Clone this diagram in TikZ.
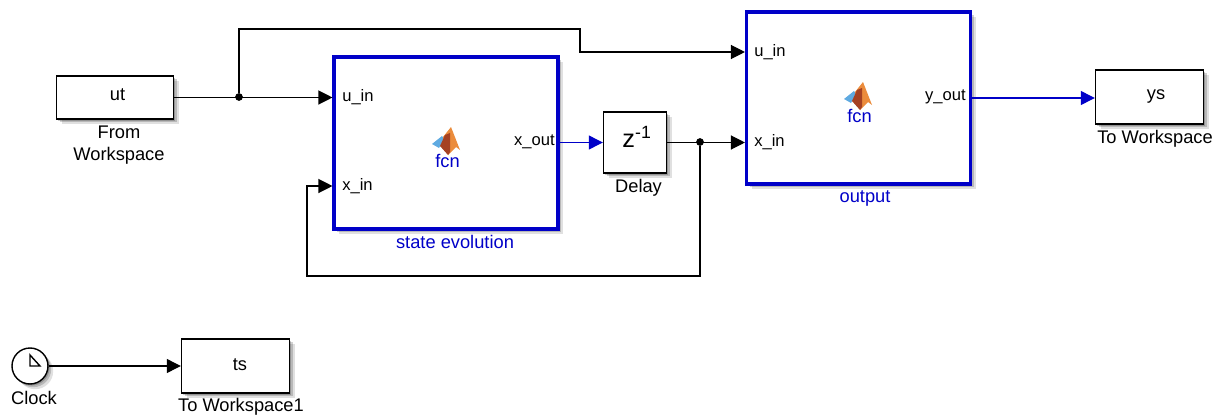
\documentclass[tikz,border=0pt]{standalone}
\usepackage{fontspec}
\setmainfont{Liberation Sans}
\usetikzlibrary{shadows,arrows.meta}
\definecolor{simblue}{RGB}{0,0,200}
\definecolor{logoblue}{RGB}{95,170,225}
\definecolor{logoorange}{RGB}{235,140,60}
\definecolor{logored}{RGB}{165,65,35}
\tikzset{
	softshadow/.style={
		drop shadow={shadow xshift=0.4mm,shadow yshift=-0.4mm,opacity=0.2,fill=black},
		drop shadow={shadow xshift=0.8mm,shadow yshift=-0.8mm,opacity=0.18,fill=black},
		drop shadow={shadow xshift=1.3mm,shadow yshift=-1.3mm,opacity=0.12,fill=black}},
	block/.style 2 args={draw=black,fill=white,line width=1pt,softshadow,inner sep=0pt,
		minimum width=#1*0.025cm,minimum height=#2*0.025cm},
	fcnblock/.style={block={224}{172},draw=simblue,line width=2.2pt},
	wire/.style={line width=0.85pt,-{Triangle[length=3.5mm,width=3.5mm]}},
	dot/.style={circle,fill=black,inner sep=0pt,minimum size=5.5pt},
	caption/.style={font=\fontsize{13}{15}\selectfont,align=center,inner sep=0pt},
	port/.style={font=\fontsize{11.8}{14}\selectfont,inner sep=0pt},
}
\begin{document}
\begin{tikzpicture}[x=0.025cm,y=-0.025cm]
	\useasboundingbox (0,0) rectangle (1222,414);
	% blocks
	\node[block={117}{43}] (ut) at (115,97.5) {};
	\node[fcnblock] (state) at (446,143) {};
	\node[block={63}{61}] (delay) at (635,142.5) {};
	\node[fcnblock] (output) at (858.5,98) {};
	\node[block={108}{54}] (ys) at (1149.5,97) {};
	\node[block={108}{54}] (ts) at (235.5,366) {};
	\node[draw=black,fill=white,line width=1pt,circle,softshadow,minimum size=36*0.025cm,inner sep=0pt] (clock) at (30,366) {};
	% block texts
	\node[caption] (utname) at (117.5,95) {ut};
	\node[caption] (ysname) at (1156,96.5) {ys};
	\node[caption] (tsname) at (240,364.5) {ts};
	\node[font=\fontsize{18}{20}\selectfont,inner sep=0pt] (zinv) at (637,137) {z\textsuperscript{-1}};
	\node[caption] (utlabel) at (119,145) {From\\[1pt]Workspace};
	\node[caption] (delaylabel) at (638.5,187.5) {Delay};
	\node[caption] (yslabel) at (1155,139) {To Workspace};
	\node[caption] (tslabel) at (241,406.5) {To Workspace1};
	\node[caption] (clocklabel) at (34,398) {Clock};
	\node[caption,text=simblue] (statelabel) at (455,242) {state evolution};
	\node[caption,text=simblue] (outputlabel) at (865,198) {output};
	% ports
	\node[port,right] (su) at (342,97) {u\_in};
	\node[port,right] (sx) at (342,186.5) {x\_in};
	\node[port,left] (so) at (555,142) {x\_out};
	\node[port,right] (ou) at (754,52) {u\_in};
	\node[port,right] (ox) at (754,142) {x\_in};
	\node[port,left] (oo) at (966,97) {y\_out};
	% fcn marks
	\foreach \name/\cx/\cy in {statefcn/446/141,outputfcn/858/96} {
		\begin{scope}[shift={(\cx,\cy)}]
			\fill[logoblue] (-14,3) -- (-4,-5) -- (-2,-2) -- (-7,7) -- cycle;
			\fill[logoorange] (-3,-4) -- (5,-14) -- (14,9) -- (10,6) -- (2,14) -- cycle;
			\fill[logored] (-6,5) -- (-1,-6) -- (4,-8) -- (4,11) -- (2,14) -- cycle;
			\node[font=\fontsize{13}{15}\selectfont,text=simblue,inner sep=0pt] (\name) at (1.5,20) {fcn};
		\end{scope}
	}
	% clock face
	\draw[line width=1pt,line join=miter] (clock.center) ++(0,-11) -- ++(0,11) -- ++(10,0) -- cycle;
	% wires
	\coordinate (uup) at (239,29);
	\coordinate (ubend) at (580,29);
	\coordinate (ustep) at (580,52);
	\coordinate (xdown) at (700,276);
	\coordinate (xback) at (307,276);
	\coordinate (xrise) at (307,186);
	\node[dot] (ubranch) at (239,97) {};
	\node[dot] (xbranch) at (700,142) {};
	\draw[wire] (ut.east) -- (ut.east -| state.west);
	\draw[wire] (ubranch) -- (uup) -- (ubend) -- (ustep) -- (ustep -| output.west);
	\draw[wire] (delay.east) -- (delay.east -| output.west);
	\draw[wire] (xbranch) -- (xdown) -- (xback) -- (xrise) -- (xrise -| state.west);
	\draw[wire,draw=simblue,fill=simblue] (state.east |- delay.west) -- (delay.west);
	\draw[wire,draw=simblue,fill=simblue] (output.east) -- (output.east -| ys.west);
	\draw[wire] (clock.east) -- (clock.east -| ts.west);
\end{tikzpicture}
\end{document}
